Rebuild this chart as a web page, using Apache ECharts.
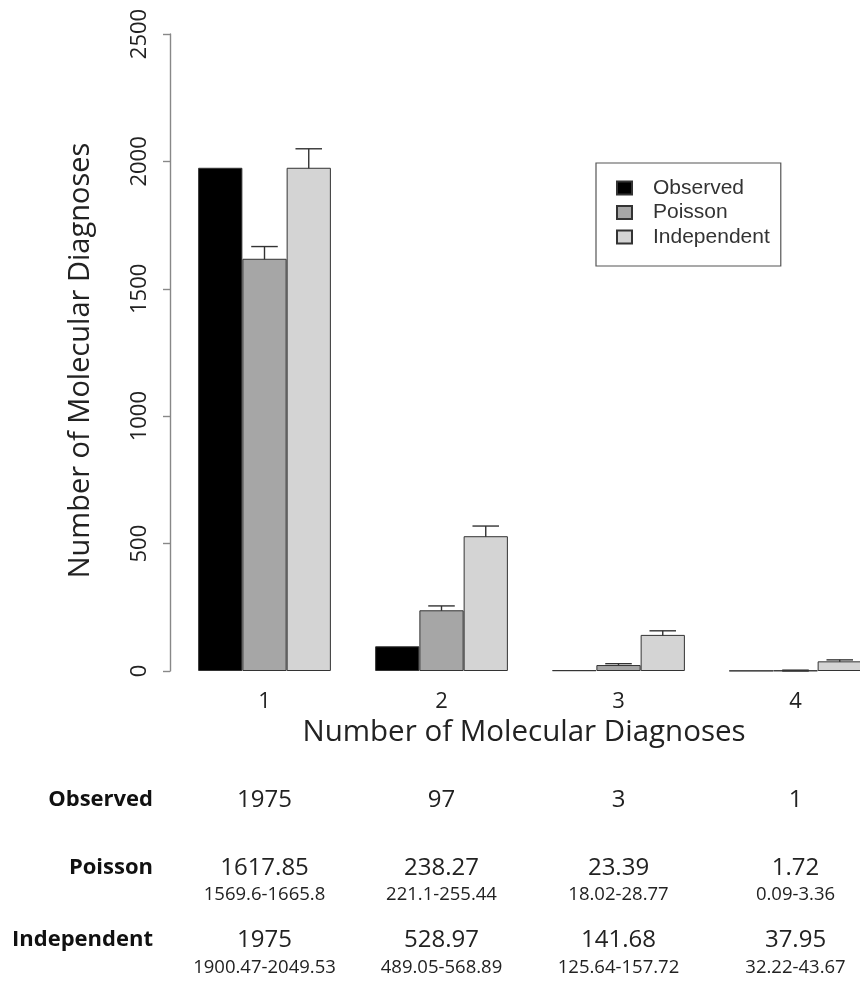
<!DOCTYPE html>
<html>
<head>
<meta charset="utf-8">
<script src="https://cdn.jsdelivr.net/npm/echarts@6/dist/echarts.min.js"></script>
<style>
html,body{margin:0;padding:0;background:#fff;overflow:hidden;width:860px;height:981px;}
#chart{width:900px;height:981px;}
</style>
</head>
<body>
<div id="chart"></div>
<script>
// ---- data ----
const categories = ['1', '2', '3', '4'];
const observed = [1975, 97, 3, 1];
const poisson = [1617.85, 238.27, 23.39, 1.72];
const poissonLower = [1569.6, 221.1, 18.02, 0.09];
const poissonUpper = [1665.8, 255.44, 28.77, 3.36];
const independent = [1975, 528.97, 141.68, 37.95];
const independentLower = [1900.47, 489.05, 125.64, 32.22];
const independentUpper = [2049.53, 568.89, 157.72, 43.67];
const yTicks = [0, 500, 1000, 1500, 2000, 2500];
const seriesNames = ['Observed', 'Poisson', 'Independent'];

const FONT = '"Open Sans", sans-serif';
const chart = echarts.init(document.getElementById('chart'), null, {renderer: 'canvas'});

function errData(lower, upper) {
  return categories.map((c, i) => [i, lower[i], upper[i]]);
}
function errSeries(name, lower, upper, offFactor) {
  return {
    type: 'custom',
    name: name + ' CI',
    z: 1,
    silent: true,
    data: errData(lower, upper),
    encode: {x: 0, y: [1, 2]},
    renderItem: function (params, api) {
      const up = api.coord([api.value(0), api.value(2)]);
      const lo = api.coord([api.value(0), api.value(1)]);
      const band = api.size([1, 0])[0];
      const cx = up[0] + offFactor * band;
      const half = band * 0.075;
      const st = {stroke: '#333', lineWidth: 1.4};
      return {
        type: 'group',
        children: [
          {type: 'line', shape: {x1: cx, y1: lo[1], x2: cx, y2: up[1]}, style: st},
          {type: 'line', shape: {x1: cx - half, y1: up[1], x2: cx + half, y2: up[1]}, style: st},
          {type: 'line', shape: {x1: cx - half, y1: lo[1], x2: cx + half, y2: lo[1]}, style: st}
        ]
      };
    }
  };
}

const colors = ['#000000', '#a6a6a6', '#d4d4d4'];
const barData = [observed, poisson, independent];

const option = {
  animation: false,
  backgroundColor: '#ffffff',
  grid: {left: 176, top: 34, width: 708, height: 637, containLabel: false},
  legend: {
    orient: 'vertical',
    left: 596,
    top: 163,
    data: seriesNames,
    icon: 'rect',
    backgroundColor: '#fff',
    borderColor: '#555',
    borderWidth: 1.2,
    padding: [14, 11, 18, 20],
    itemWidth: 15,
    itemHeight: 13,
    itemGap: 2.5,
    textStyle: {fontFamily: '"Liberation Sans", Arial, sans-serif', fontSize: 21, color: '#333', lineHeight: 22, padding: [0, 0, 0, 16]}
  },
  xAxis: {
    type: 'category',
    data: categories,
    axisLine: {show: false},
    axisTick: {show: false},
    axisLabel: {fontFamily: FONT, fontSize: 22, color: '#222', margin: 20},
    name: 'Number of Molecular Diagnoses',
    nameLocation: 'middle',
    nameGap: 47,
    nameTextStyle: {fontFamily: FONT, fontSize: 29.5, color: '#222', verticalAlign: 'top', padding: [0, 12, 0, 0]}
  },
  yAxis: {
    type: 'value',
    min: 0,
    max: 2500,
    interval: 500,
    offset: 6,
    splitLine: {show: false},
    axisLine: {show: true, lineStyle: {color: '#888', width: 1.4}},
    axisTick: {show: true, length: 7, lineStyle: {color: '#888', width: 1.4}},
    axisLabel: {fontFamily: FONT, fontSize: 22, color: '#222', rotate: 90, margin: 19,
      formatter: function (v) { return String(v); }},
    name: 'Number of Molecular Diagnoses',
    nameLocation: 'middle',
    nameGap: 75,
    nameTextStyle: {fontFamily: FONT, fontSize: 29, color: '#222', padding: [0, 16, 0, 0]}
  },
  series: seriesNames.map((n, k) => ({
    type: 'bar',
    name: n,
    z: 2,
    data: barData[k],
    barWidth: '25%',
    barGap: '0%',
    itemStyle: {color: colors[k], borderColor: '#333', borderWidth: 1}
  })).concat([
    errSeries('Poisson', poissonLower, poissonUpper, 0),
    errSeries('Independent', independentLower, independentUpper, 0.25)
  ])
};
chart.setOption(option);

// ---- table below the chart ----
function fmtRange(lo, hi) { return lo + '-' + hi; }
const g = [];
const labelX = 153;
const rowY = {obs: 800, pMain: 868, pSub: 895, iMain: 940, iSub: 968};
[['Observed', rowY.obs], ['Poisson', rowY.pMain], ['Independent', rowY.iMain]].forEach(function (r) {
  g.push({type: 'text', x: labelX, y: r[1], style: {text: r[0], font: 'bold 22px ' + FONT, fill: '#111', align: 'right', verticalAlign: 'middle'}});
});
categories.forEach(function (c, i) {
  const cx = chart.convertToPixel({xAxisIndex: 0}, c);
  const items = [
    [String(observed[i]), rowY.obs, 24],
    [String(poisson[i]), rowY.pMain, 24],
    [fmtRange(poissonLower[i], poissonUpper[i]), rowY.pSub, 18.5],
    [String(independent[i]), rowY.iMain, 24],
    [fmtRange(independentLower[i], independentUpper[i]), rowY.iSub, 18.5]
  ];
  items.forEach(function (it) {
    g.push({type: 'text', x: cx, y: it[1], style: {text: it[0], font: it[2] + 'px ' + FONT, fill: '#222', align: 'center', verticalAlign: 'middle'}});
  });
});
chart.setOption({graphic: g});
</script>
</body>
</html>
